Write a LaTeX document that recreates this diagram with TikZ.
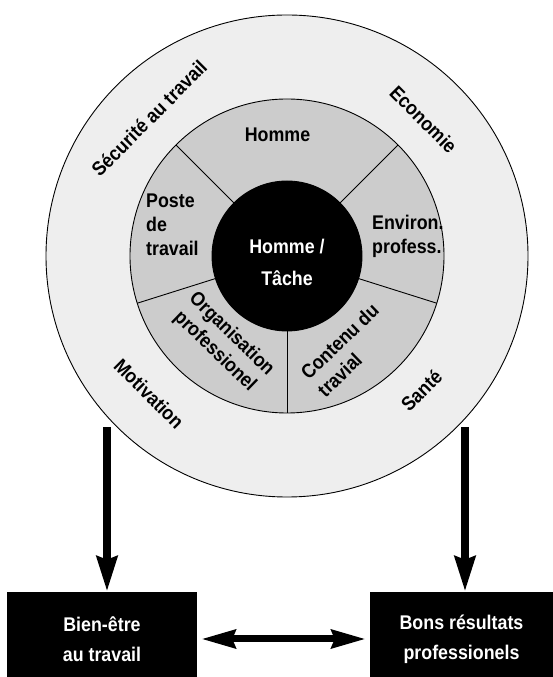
\documentclass[tikz,border=0pt]{standalone}
\usepackage{fontspec}
\setmainfont{Liberation Sans}[FakeStretch=0.9]
\usetikzlibrary{arrows.meta,calc}
\definecolor{ringout}{HTML}{EEEEEE}
\definecolor{ringin}{HTML}{CCCCCC}
\begin{document}
\begin{tikzpicture}[x=1pt,y=1pt,
  lbl/.style={font=\bfseries\fontsize{19.8}{24}\selectfont, inner sep=0pt},
  disc/.style={circle, draw=black, line width=0.9pt, inner sep=0pt},
  spoke/.style={draw=black, line width=0.9pt},
  box/.style={lbl, fill=black, text=white, align=center, minimum height=94pt},
  bigarrow/.style={line width=8pt, -{Stealth[length=35pt,width=20pt,inset=3pt]}},
  dblarrow/.style={line width=7pt, {Stealth[length=34pt,width=18pt,inset=3pt]}-{Stealth[length=34pt,width=18pt,inset=3pt]}}]
\useasboundingbox (0,0) rectangle (553,677);
\coordinate (C) at (287,421);
\node[disc, fill=ringout, minimum size=482pt] (outer) at (C) {};
\node[disc, fill=ringin, minimum size=314pt] (inner) at (C) {};
\foreach \a in {45,135,197.5,270,342.5}
  \draw[spoke] ($(C)+(\a:74)$) -- ($(C)+(\a:157)$);
\node[disc, fill=black, minimum size=150pt] (core) at (C) {};
\node[lbl, text=white, align=center] (coretext) at (287,415) {Homme /\\[8pt]Tâche};
% outer ring labels
\node[lbl, rotate=45] (secu) at ($(C)+(135:195)$) {Sécurité au travail};
\node[lbl, rotate=-45] (eco) at ($(C)+(45:193)$) {Economie};
\node[lbl, rotate=-45] (moti) at ($(C)+(225:195)$) {Motivation};
\node[lbl, rotate=45] (sante) at ($(C)+(315:190)$) {Santé};
% inner ring labels
\node[lbl, anchor=base] (homme) at (277.5,535.3) {Homme};
\node[lbl, anchor=west, align=left] (poste) at (146,452) {Poste\\de\\travail};
\node[lbl, anchor=west, align=left] (env) at (372,441) {Environ.\\profess.};
\node[lbl, rotate=-44, align=center] (orga) at ($(C)+(-64,-87)$) {Organisation\\professionel};
\node[lbl, rotate=44, align=left] (cont) at ($(C)+(61,-94)$) {Contenu du\\travial};
% result boxes
\node[box, minimum width=190pt] (lbox) at (102,38) {Bien-être\\[6pt]au travail};
\node[box, minimum width=183pt] (rbox) at (461.5,38) {Bons résultats\\[6pt]professionels};
% arrows
\coordinate (s1) at (107,250);
\coordinate (s2) at (465,250);
\draw[bigarrow] (s1) -- (s1 |- lbox.north);
\draw[bigarrow] (s2) -- (s2 |- rbox.north);
\draw[dblarrow] ($(lbox.east)+(4,0)$) -- ($(rbox.west)+(-4,0)$);
\end{tikzpicture}
\end{document}
